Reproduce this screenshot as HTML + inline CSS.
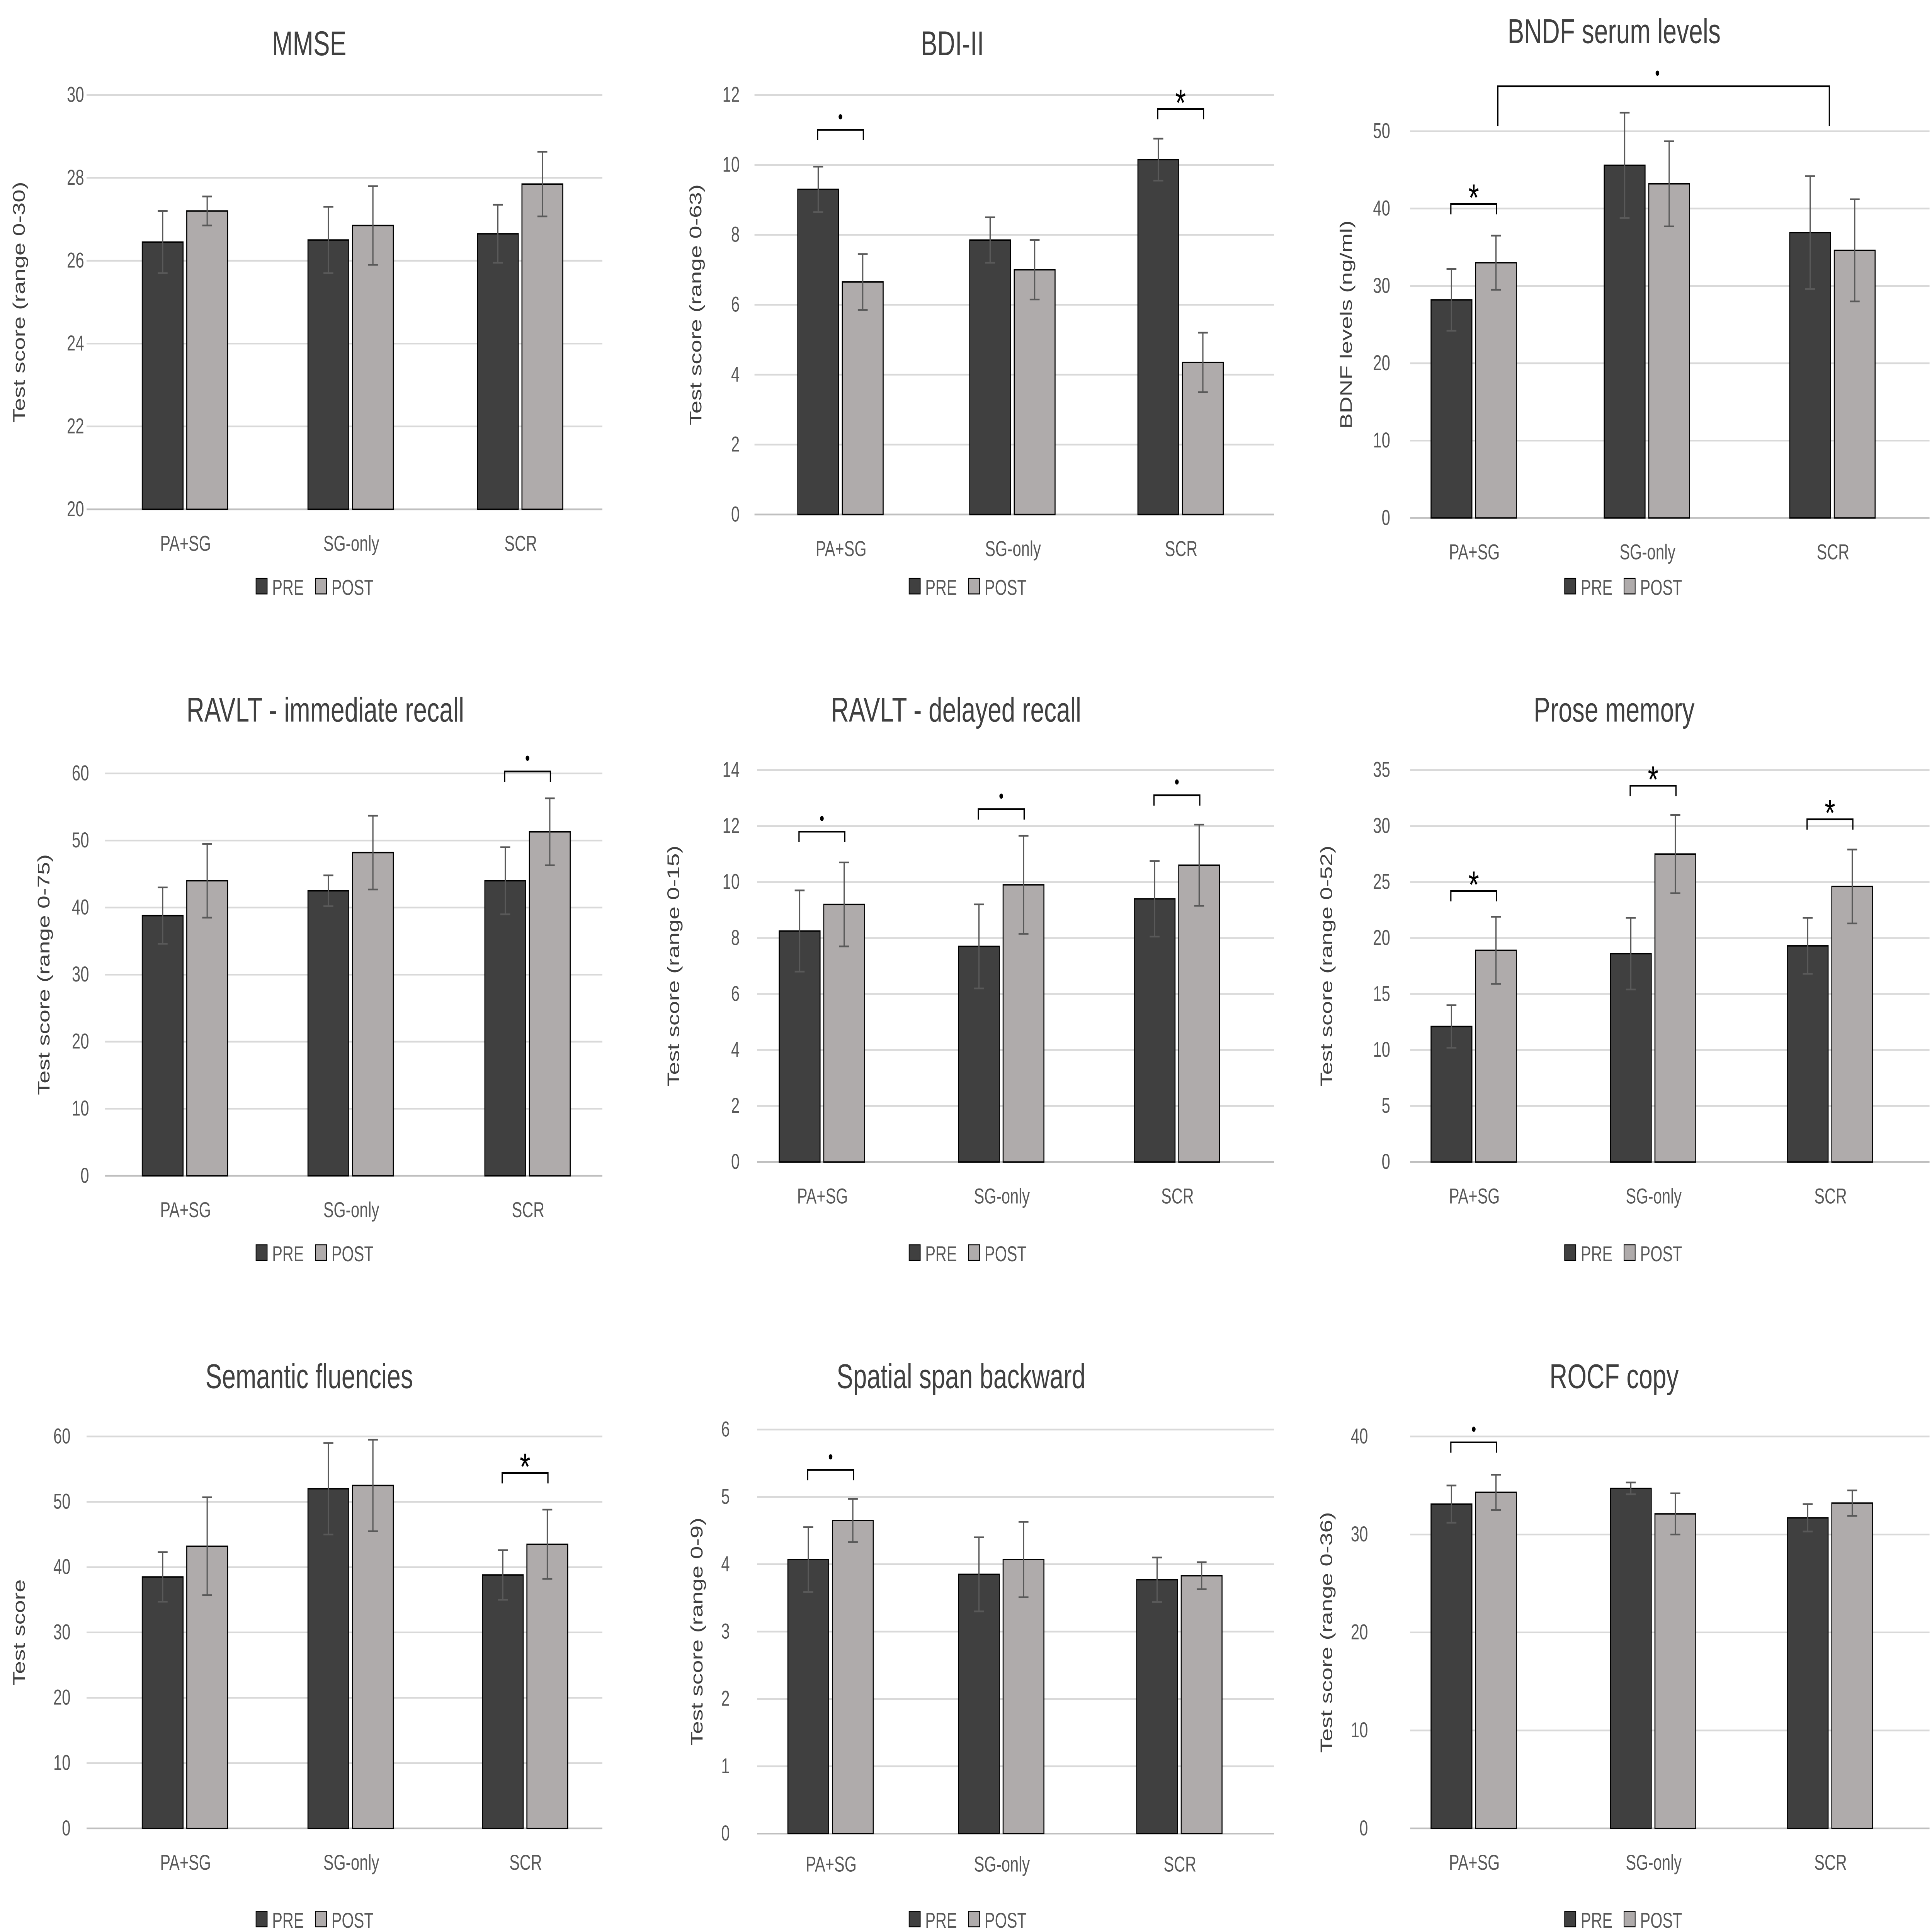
<!DOCTYPE html>
<html><head><meta charset="utf-8"><style>html,body{margin:0;padding:0;background:#fff;overflow:hidden;width:100vw;height:100vh}svg{display:block;position:fixed;left:0;top:0;width:100vw;height:100vh}</style></head>
<body>
<svg id="fig" xmlns="http://www.w3.org/2000/svg" viewBox="0 0 1562 1119" preserveAspectRatio="none" font-family="Liberation Sans, sans-serif"></svg>
<script>
const categories = ["PA+SG","SG-only","SCR"];
const mmsePre=[26.45,26.5,26.65], mmsePost=[27.2,26.85,27.85], mmsePreErr=[0.75,0.8,0.7], mmsePostErr=[0.35,0.95,0.78];
const bdiPre=[9.3,7.85,10.15], bdiPost=[6.65,7.0,4.35], bdiPreErr=[0.65,0.65,0.6], bdiPostErr=[0.8,0.85,0.85];
const bdnfPre=[28.2,45.6,36.9], bdnfPost=[33,43.2,34.6], bdnfPreErr=[4,6.8,7.3], bdnfPostErr=[3.5,5.5,6.6];
const ravImPre=[38.8,42.5,44], ravImPost=[44,48.2,51.3], ravImPreErr=[4.2,2.3,5], ravImPostErr=[5.5,5.5,5];
const ravDePre=[8.25,7.7,9.4], ravDePost=[9.2,9.9,10.6], ravDePreErr=[1.45,1.5,1.35], ravDePostErr=[1.5,1.75,1.45];
const prosePre=[12.1,18.6,19.3], prosePost=[18.9,27.5,24.6], prosePreErr=[1.9,3.2,2.5], prosePostErr=[3,3.5,3.3];
const semPre=[38.5,52,38.8], semPost=[43.2,52.5,43.5], semPreErr=[3.8,7,3.8], semPostErr=[7.5,7,5.3];
const spPre=[4.07,3.85,3.77], spPost=[4.65,4.07,3.83], spPreErr=[0.48,0.55,0.33], spPostErr=[0.32,0.56,0.2];
const rocfPre=[33.1,34.7,31.7], rocfPost=[34.3,32.1,33.2], rocfPreErr=[1.9,0.6,1.4], rocfPostErr=[1.8,2.1,1.3];

const charts=[
 {name:"mmse",title:"MMSE",yt:"Test score (range 0-30)",min:20,max:30,step:2,pre:mmsePre,post:mmsePost,pe:mmsePreErr,qe:mmsePostErr,
  tx:250,ty:25,x0:70,x1:487,yTop:55,yBot:295,cx:[148,282,419],tickX:68,ytX:20,catY:315,legY:340,legX:207,br:[]},
 {name:"bdi",title:"BDI-II",yt:"Test score (range 0-63)",min:0,max:12,step:2,pre:bdiPre,post:bdiPost,pe:bdiPreErr,qe:bdiPostErr,
  tx:770,ty:25,x0:610,x1:1030,yTop:55,yBot:298,cx:[678,817,953],tickX:598,ytX:567,catY:318,legY:340,legX:735,br:[[0,11,"•"],[2,11.6,"*"]]},
 {name:"bdnf",title:"BNDF serum levels",yt:"BDNF levels (ng/ml)",min:0,max:50,step:10,pre:bdnfPre,post:bdnfPost,pe:bdnfPreErr,qe:bdnfPostErr,
  tx:1305,ty:18,x0:1140,x1:1560,yTop:76,yBot:300,cx:[1190,1330,1480],tickX:1124,ytX:1093,catY:320,legY:340,legX:1265,br:[[0,40.6,"*"]]},
 {name:"ravlt-immediate",title:"RAVLT - immediate recall",yt:"Test score (range 0-75)",min:0,max:60,step:10,pre:ravImPre,post:ravImPost,pe:ravImPreErr,qe:ravImPostErr,
  tx:263,ty:411,x0:85,x1:487,yTop:448,yBot:681,cx:[148,282,425],tickX:72,ytX:40,catY:701,legY:726,legX:207,br:[[2,60.3,"•"]]},
 {name:"ravlt-delayed",title:"RAVLT - delayed recall",yt:"Test score (range 0-15)",min:0,max:14,step:2,pre:ravDePre,post:ravDePost,pe:ravDePreErr,qe:ravDePostErr,
  tx:773,ty:411,x0:612,x1:1030,yTop:446,yBot:673,cx:[663,808,950],tickX:598,ytX:549,catY:693,legY:726,legX:735,br:[[0,11.8,"•"],[1,12.6,"•"],[2,13.1,"•"]]},
 {name:"prose-memory",title:"Prose memory",yt:"Test score (range 0-52)",min:0,max:35,step:5,pre:prosePre,post:prosePost,pe:prosePreErr,qe:prosePostErr,
  tx:1305,ty:411,x0:1140,x1:1560,yTop:446,yBot:673,cx:[1190,1335,1478],tickX:1124,ytX:1077,catY:693,legY:726,legX:1265,br:[[0,24.2,"*"],[1,33.6,"*"],[2,30.6,"*"]]},
 {name:"semantic-fluencies",title:"Semantic fluencies",yt:"Test score",min:0,max:60,step:10,pre:semPre,post:semPost,pe:semPreErr,qe:semPostErr,
  tx:250,ty:797,x0:70,x1:487,yTop:832,yBot:1059,cx:[148,282,423],tickX:57,ytX:20,catY:1079,legY:1112,legX:207,br:[[2,54.4,"*"]]},
 {name:"spatial-span",title:"Spatial span backward",yt:"Test score (range 0-9)",min:0,max:6,step:1,pre:spPre,post:spPost,pe:spPreErr,qe:spPostErr,
  tx:777,ty:797,x0:612,x1:1030,yTop:828,yBot:1062,cx:[670,808,952],tickX:590,ytX:568,catY:1080,legY:1112,legX:735,br:[[0,5.4,"•"]]},
 {name:"rocf-copy",title:"ROCF copy",yt:"Test score (range 0-36)",min:0,max:40,step:10,pre:rocfPre,post:rocfPost,pe:rocfPreErr,qe:rocfPostErr,
  tx:1305,ty:797,x0:1140,x1:1560,yTop:832,yBot:1059,cx:[1190,1335,1478],tickX:1106,ytX:1077,catY:1079,legY:1112,legX:1265,br:[[0,39.4,"•"]]}
];
const NS="http://www.w3.org/2000/svg", svg=document.getElementById('fig');
function mk(p,t,a){const e=document.createElementNS(NS,t);for(const k in a)e.setAttribute(k,a[k]);p.appendChild(e);return e;}
charts.forEach(c=>{
  const g=mk(svg,'g',{});
  
  
  const y=v=>c.yBot-(v-c.min)/(c.max-c.min)*(c.yBot-c.yTop);
  const t=mk(g,'text',{x:c.tx,y:c.ty+7,'text-anchor':'middle','font-size':20,fill:'#404040'});t.textContent=c.title;
  
  
  for(let v=c.min;v<=c.max+1e-9;v+=c.step){
    const l=mk(g,'line',{x1:c.x0,x2:c.x1,y1:y(v),y2:y(v),stroke:v===c.min?'#bfbfbf':'#d9d9d9','stroke-width':1});
    
    
    const tl=mk(g,'text',{x:c.tickX,y:y(v)+4,'text-anchor':'end','font-size':12.5,fill:'#595959'});tl.textContent=v;
    
    
  }
  const ym=(c.yTop+c.yBot)/2;
  const at=mk(g,'text',{x:c.ytX,y:ym,transform:`rotate(-90 ${c.ytX} ${ym})`,'text-anchor':'middle','font-size':13.5,fill:'#404040'});at.textContent=c.yt;
  
  
  categories.forEach((cat,i)=>{
    const cx=c.cx[i];
    [[c.pre[i],c.pe[i],cx-33,'#404040','pre'],[c.post[i],c.qe[i],cx+3,'#afabab','post']].forEach(([v,e,x,col,nm])=>{
      const r=mk(g,'rect',{x:x,y:y(v),width:33,height:c.yBot-y(v),fill:col,stroke:'#000','stroke-width':0.8});
      
      
      const m=x+16.5;
      const eb=mk(g,'path',{d:`M${m} ${y(v-e)}V${y(v+e)}M${m-4} ${y(v-e)}H${m+4}M${m-4} ${y(v+e)}H${m+4}`,stroke:'#595959','stroke-width':1,fill:'none'});
      
      
    });
    const cl=mk(g,'text',{x:cx+2,y:c.catY+4,'text-anchor':'middle','font-size':12.5,fill:'#595959'});cl.textContent=cat;
    
    
  });
  c.br.forEach(([i,v,s])=>{
    const a=c.cx[i]-17,b=c.cx[i]+20,yy=y(v);
    const p=mk(g,'path',{d:`M${a} ${yy+6}V${yy}H${b}V${yy+6}`,stroke:'#000','stroke-width':1,fill:'none'});
    
    
    const st=mk(g,'text',{x:(a+b)/2,y:s==='*'?yy+4:yy-4,'text-anchor':'middle','font-size':s==='*'?22:11,fill:'#000'});st.textContent=s;
    
    
  });
  [['PRE','#404040',0],['POST','#afabab',48]].forEach(([n,col,dx])=>{
    const r=mk(g,'rect',{x:c.legX+dx,y:c.legY-5,width:9,height:9,fill:col,stroke:'#000','stroke-width':0.6});
    
    
    const lt=mk(g,'text',{x:c.legX+dx+13,y:c.legY+4.5,'font-size':12.5,fill:'#595959'});lt.textContent=n;
    
    
  });
});
(function(){
  const p=mk(svg,'path',{d:'M1211 73V50H1479V73',stroke:'#000','stroke-width':1,fill:'none'});
  
  
  const d=mk(svg,'text',{x:1340,y:46,'text-anchor':'middle','font-size':11});d.textContent='•';
  
  
})();
</script>
</body></html>
